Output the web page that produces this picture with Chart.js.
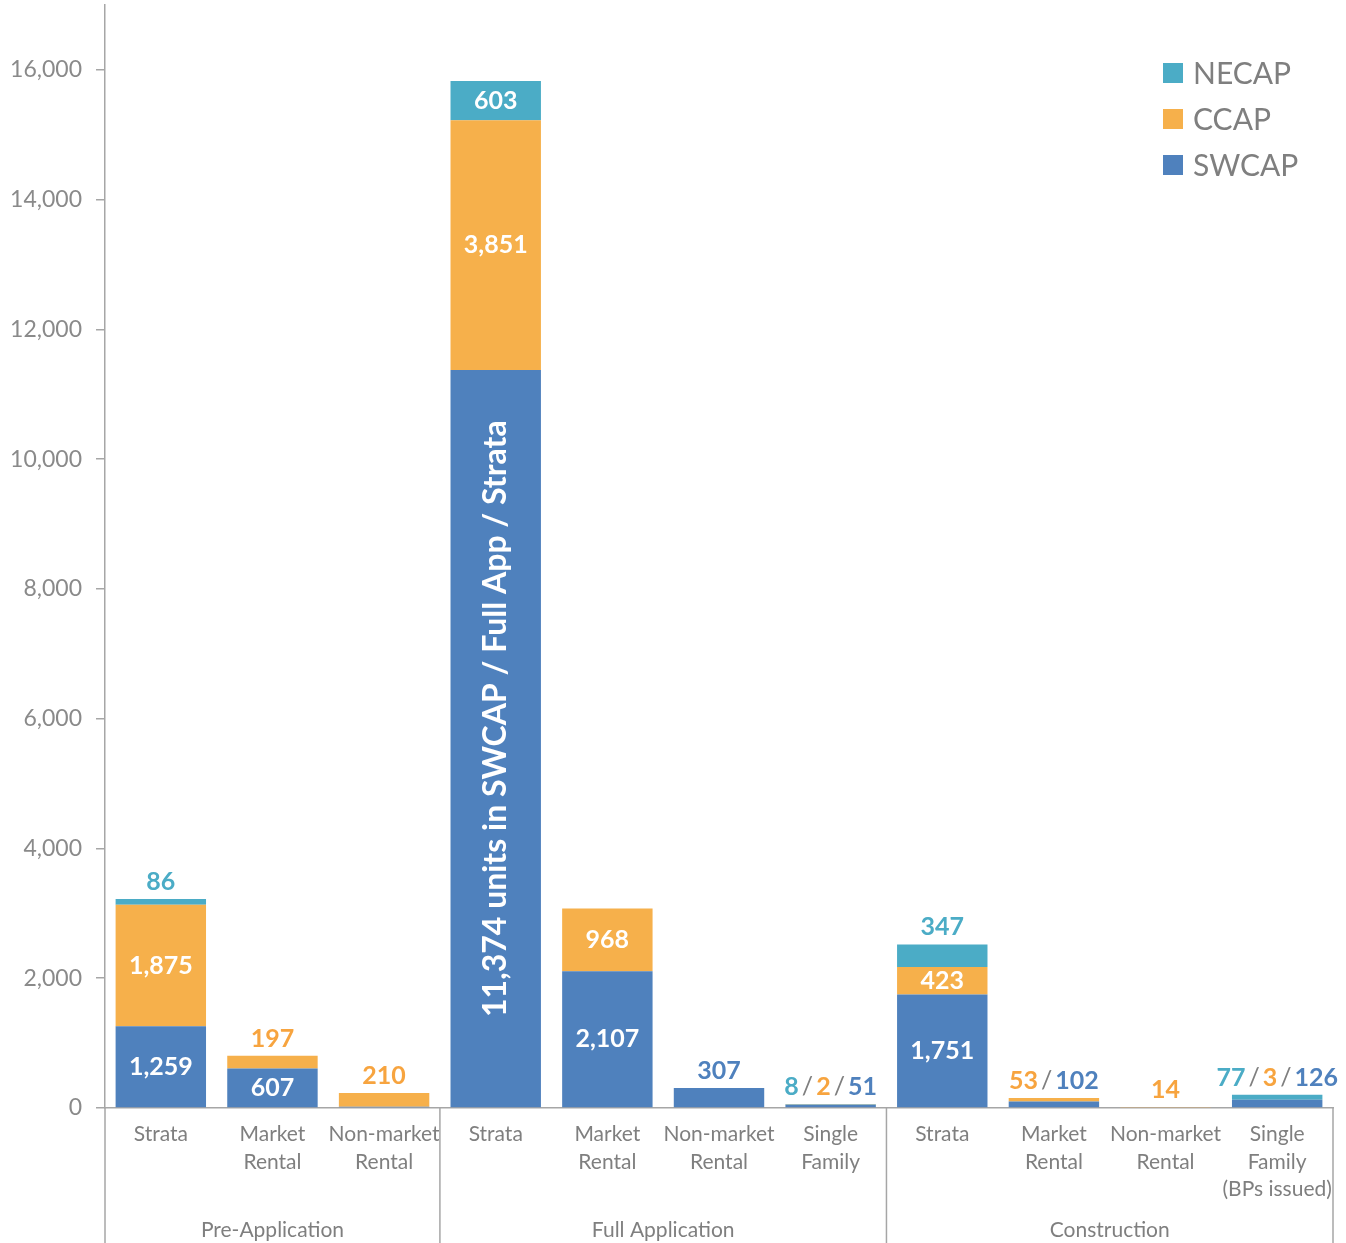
<!DOCTYPE html>
<html><head><meta charset="utf-8">
<script src="https://cdn.jsdelivr.net/npm/chart.js@4.4.1/dist/chart.umd.min.js"></script>
<style>html,body{margin:0;padding:0;background:#fff;}#wrap{width:1346px;height:1243px;position:relative;}</style>
</head><body><div id="wrap"><canvas id="c"></canvas></div>
<script>
// ---- data ----
const categories = [["Strata"],["Market","Rental"],["Non-market","Rental"],
  ["Strata"],["Market","Rental"],["Non-market","Rental"],["Single","Family"],
  ["Strata"],["Market","Rental"],["Non-market","Rental"],["Single","Family","(BPs issued)"]];
const groups = ["Pre-Application","Full Application","Construction"];
const groupSizes = [3,4,4];
const seriesNames = ["SWCAP","CCAP","NECAP"];
const swcap = [1259,607,20,11374,2107,307,51,1751,102,0,126];
const ccap  = [1875,197,210,3851,968,0,2,423,53,14,3];
const necap = [86,0,0,603,0,0,8,347,0,0,77];
const yMax = 17000;
const yTickValues = [0,2000,4000,6000,8000,10000,12000,14000,16000];
const unlabeled = [["SWCAP",2]];
const noteIndex = 3;
const noteText = "11,374 units in SWCAP / Full App / Strata";

// ---- styles ----
const FONT = "Lato";
const GREY = "#7f7f7f";
const AXIS = "#a6a6a6";
const fill = {SWCAP:"#4f81bd", CCAP:"#f6b04b", NECAP:"#4bacc6"};
const txt  = {SWCAP:"#4f81bd", CCAP:"#f7a43f", NECAP:"#4bacc6"};
const fmt = v => Number(v).toLocaleString("en-US");
const NUMFONT = "bold 25px " + FONT;

const labelPlugin = {
  id: "labels",
  afterDatasetsDraw(chart) {
    const ctx = chart.ctx;
    ctx.save();
    ctx.textAlign = "center";
    ctx.textBaseline = "middle";
    for (let i = 0; i < categories.length; i++) {
      const above = [];
      let top = Infinity, cx = 0;
      chart.data.datasets.forEach((ds, di) => {
        const el = chart.getDatasetMeta(di).data[i];
        cx = el.x;
        const v = ds.data[i];
        if (!v) return;
        top = Math.min(top, el.y);
        if (unlabeled.some(u => u[0] === ds.label && u[1] === i)) return;
        const h = el.base - el.y;
        if (di === 0 && i === noteIndex) {
          ctx.save();
          ctx.translate(el.x, (el.y + el.base) / 2 - 20);
          ctx.rotate(-Math.PI / 2);
          ctx.font = "bold 32px " + FONT;
          ctx.fillStyle = "#fff";
          ctx.fillText(noteText, 0, 0);
          ctx.restore();
          return;
        }
        if (h >= 25) {
          ctx.font = NUMFONT;
          ctx.fillStyle = "#fff";
          ctx.fillText(fmt(v), el.x, (el.y + el.base) / 2);
        } else {
          above.unshift({t: fmt(v), c: txt[ds.label]});
        }
      });
      if (above.length) {
        const pieces = [];
        above.forEach((p, k) => {
          if (k > 0) pieces.push({t: "/", c: GREY, f: "25px " + FONT, g: 3});
          pieces.push({t: p.t, c: p.c, f: NUMFONT, g: 0});
        });
        let total = 0;
        pieces.forEach(p => { ctx.font = p.f; p.w = ctx.measureText(p.t).width + 2 * p.g; total += p.w; });
        let x = cx - total / 2;
        const y = top - 17;
        ctx.textAlign = "left";
        pieces.forEach(p => { ctx.font = p.f; ctx.fillStyle = p.c; ctx.fillText(p.t, x + p.g, y); x += p.w; });
        ctx.textAlign = "center";
      }
    }
    ctx.restore();
  },
  afterDraw(chart) {
    const ctx = chart.ctx;
    const ca = chart.chartArea;
    const xs = chart.scales.x;
    const H = chart.height;
    ctx.save();
    ctx.strokeStyle = AXIS;
    ctx.lineWidth = 1.5;
    const bounds = [ca.left];
    let idx = 0;
    groupSizes.forEach(n => {
      idx += n;
      if (idx < categories.length) bounds.push((xs.getPixelForValue(idx - 1) + xs.getPixelForValue(idx)) / 2);
    });
    bounds.push(ca.right);
    bounds.forEach(bx => { ctx.beginPath(); ctx.moveTo(bx, ca.bottom); ctx.lineTo(bx, H); ctx.stroke(); });
    ctx.font = "21px " + FONT;
    ctx.fillStyle = GREY;
    ctx.textAlign = "center";
    ctx.textBaseline = "middle";
    groups.forEach((g, k) => ctx.fillText(g, (bounds[k] + bounds[k + 1]) / 2, 1230));
    const legendOrder = ["NECAP","CCAP","SWCAP"];
    ctx.font = "30px " + FONT;
    ctx.textAlign = "left";
    legendOrder.forEach((n, k) => {
      const yc = 73 + k * 46;
      ctx.fillStyle = fill[n];
      ctx.fillRect(ca.right - 170, yc - 10, 20, 20);
      ctx.fillStyle = GREY;
      ctx.fillText(n, ca.right - 140, yc + 1);
    });
    ctx.restore();
  }
};

function zeroPad(s) { s.paddingTop = 0; s.paddingBottom = 0; s.paddingLeft = 0; s.paddingRight = 0; }

function build() {
  new Chart(document.getElementById("c"), {
    type: "bar",
    data: {
      labels: categories,
      datasets: [
        {label: seriesNames[0], data: swcap, backgroundColor: fill.SWCAP},
        {label: seriesNames[1], data: ccap, backgroundColor: fill.CCAP},
        {label: seriesNames[2], data: necap, backgroundColor: fill.NECAP}
      ]
    },
    options: {
      responsive: true,
      maintainAspectRatio: false,
      animation: false,
      layout: {padding: {top: 5, right: 13, left: 0, bottom: 0}},
      datasets: {bar: {barPercentage: 0.81, categoryPercentage: 1, borderWidth: 0}},
      plugins: {legend: {display: false}, tooltip: {enabled: false}},
      scales: {
        x: {
          stacked: true,
          grid: {display: false},
          border: {color: AXIS, width: 1.5},
          ticks: {font: {family: FONT, size: 21, lineHeight: 1.3}, color: GREY, padding: 5, maxRotation: 0, minRotation: 0, autoSkip: false},
          afterFit: s => { s.height = 135; zeroPad(s); }
        },
        y: {
          type: "linear",
          stacked: true,
          min: 0, max: yMax,
          grid: {drawOnChartArea: false, drawTicks: true, tickLength: 9, color: AXIS, lineWidth: 1.5},
          border: {color: AXIS, width: 1.5},
          ticks: {autoSkip: false, font: {family: FONT, size: 23}, color: "#8a8a8a", padding: 14,
                  callback: function(v) { return fmt(v); }},
          afterBuildTicks: s => { s.ticks = yTickValues.map(v => ({value: v})); },
          afterFit: s => { s.width = 105; zeroPad(s); }
        }
      }
    },
    plugins: [labelPlugin]
  });
}
Promise.all([document.fonts.load("20px Lato"), document.fonts.load("bold 24px Lato")]).then(build, build);
</script></body></html>
